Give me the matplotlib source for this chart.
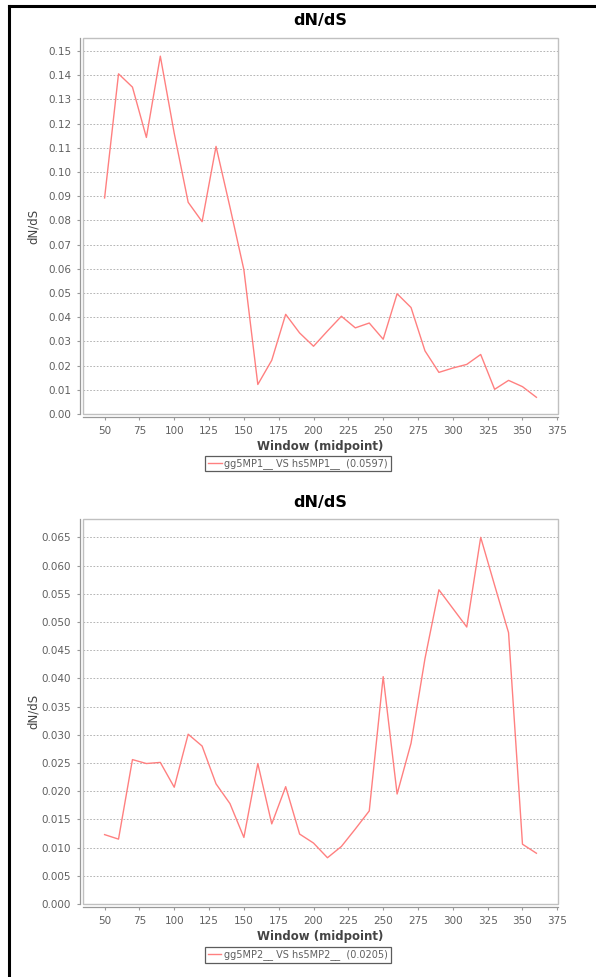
import numpy as np
import matplotlib
matplotlib.use("Agg")
import matplotlib.pyplot as plt
from matplotlib.patches import Rectangle
from matplotlib.lines import Line2D

# ventanas (punto medio)
window = [50, 60, 70, 80, 90, 100, 110, 120, 130, 140, 150, 160, 170, 180, 190, 200,
          210, 220, 230, 240, 250, 260, 270, 280, 290, 300, 310, 320, 330, 340, 350, 360]

# dN/dS gg5MP1 vs hs5MP1
dnds_mp1 = [0.0893, 0.1406, 0.1351, 0.1143, 0.1479, 0.1160, 0.0875, 0.0795, 0.1106, 0.0855,
            0.0596, 0.0122, 0.0222, 0.0412, 0.0335, 0.0280, 0.0343, 0.0404, 0.0356, 0.0376,
            0.0309, 0.0497, 0.0440, 0.0261, 0.0172, 0.0190, 0.0205, 0.0246, 0.0102, 0.0139,
            0.0113, 0.0069]

# dN/dS gg5MP2 vs hs5MP2
dnds_mp2 = [0.0123, 0.0115, 0.0256, 0.0249, 0.0251, 0.0207, 0.0301, 0.0280, 0.0213, 0.0178,
            0.0118, 0.0249, 0.0142, 0.0208, 0.0124, 0.0108, 0.0082, 0.0102, 0.0133, 0.0165,
            0.0403, 0.0195, 0.0285, 0.0435, 0.0557, 0.0524, 0.0491, 0.0650, 0.0565, 0.0481,
            0.0106, 0.0090]

labels = ["gg5MP1__ VS hs5MP1__  (0.0597)", "gg5MP2__ VS hs5MP2__  (0.0205)"]
xticks = [50, 75, 100, 125, 150, 175, 200, 225, 250, 275, 300, 325, 350, 375]

W, H = 596, 977
LINE = "#ff8080"
TICK = "#606060"

fig = plt.figure(figsize=(W / 100, H / 100), dpi=100)
fig.patch.set_facecolor("white")


def make_panel(top_px, bot_px, y, ymax, ystep, fmt, label, legend_y):
    ax = fig.add_axes([83 / W, 1 - bot_px / H, 475 / W, (bot_px - top_px) / H])
    ax.plot(window, y, color=LINE, lw=1.0)
    ax.set_xlim(34.5, 375.5)
    ax.set_ylim(0, ymax)
    ax.set_xticks(xticks)
    yt = np.arange(0, ymax, ystep)
    ax.set_yticks(yt)
    ax.set_yticklabels([fmt % v for v in yt])
    ax.grid(axis="y", color="#a8a8a8", ls=(0, (2, 2)), lw=0.6)
    ax.set_axisbelow(True)
    for s in ["top", "right"]:
        ax.spines[s].set_visible(False)
    for s in ["left", "bottom"]:
        ax.spines[s].set_position(("outward", 2.5))
        ax.spines[s].set_color("#999999")
        ax.spines[s].set_linewidth(0.9)
    ax.add_patch(Rectangle((0, 0), 1, 1, transform=ax.transAxes, fill=False,
                           edgecolor="#c0c0c0", lw=1.0, clip_on=False, zorder=5))
    ax.tick_params(colors="#999999", labelcolor=TICK, labelsize=7.5, length=2.5, width=0.8)
    ax.set_xlabel("Window (midpoint)", fontsize=8.5, fontweight="bold", color="#444444", labelpad=3)
    ax.set_ylabel("dN/dS", fontsize=8.5, color="#444444")
    ax.yaxis.set_label_coords((40 - 83) / 475, 0.5)
    fig.text(320 / W, 1 - (top_px - 17) / H, "dN/dS", ha="center", va="center",
             fontsize=11.5, fontweight="bold")
    h = Line2D([], [], color=LINE, lw=1.0)
    leg = fig.legend([h], [label], loc="center", bbox_to_anchor=(298 / W, 1 - legend_y / H),
                     fontsize=7, frameon=True, fancybox=False, handlelength=1.4,
                     handletextpad=0.3, borderpad=0.25, borderaxespad=0)
    leg.get_frame().set_edgecolor("#333333")
    leg.get_frame().set_linewidth(0.9)
    for t in leg.get_texts():
        t.set_color(TICK)
    return ax


make_panel(38, 414, dnds_mp1, 0.1554, 0.01, "%.2f", labels[0], 463.5)
make_panel(519, 904, dnds_mp2, 0.06825, 0.005, "%.3f", labels[1], 955)

# marco negro de la captura
fig.add_artist(Line2D([9 / W, 1], [1 - 6 / H, 1 - 6 / H], color="black", lw=2.2))
fig.add_artist(Line2D([9 / W, 9 / W], [0, 1 - 6 / H], color="black", lw=2.2))

fig.savefig("out.png", dpi=100)
